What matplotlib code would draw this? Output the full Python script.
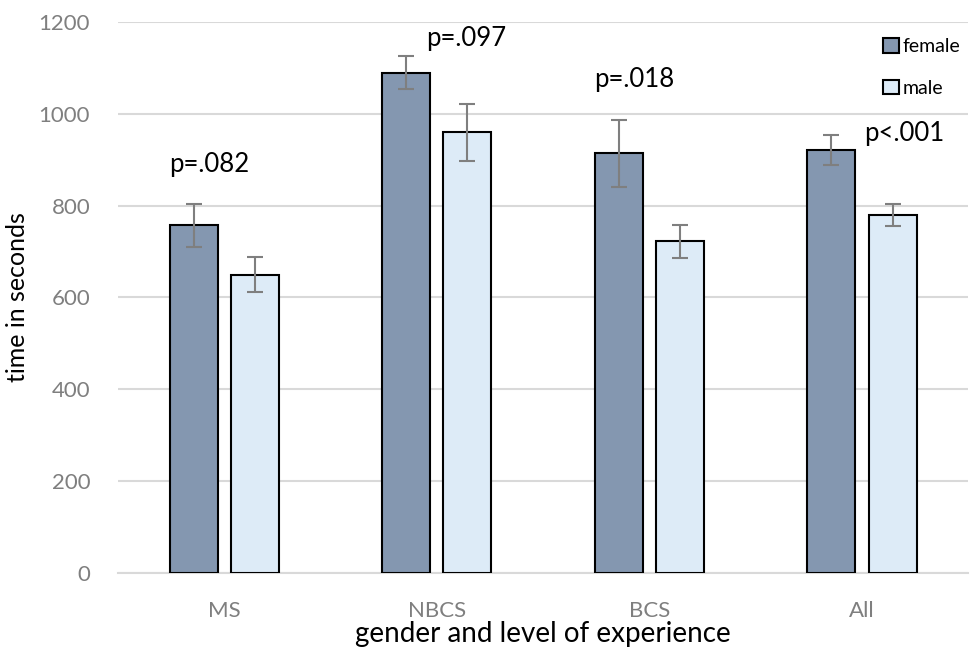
import matplotlib
matplotlib.use("Agg")
from matplotlib import pyplot as plt
import numpy as np

plt.rcParams['font.family'] = ['Lato', 'DejaVu Sans']

# Mean time per group with error bar half-lengths
grupos = ['MS', 'NBCS', 'BCS', 'All']
female = [757, 1090, 914, 921]
female_err = [46, 37, 73, 32]
male = [650, 960, 722, 779]
male_err = [38, 62, 35, 24]
p_textos = ['p=.082', 'p=.097', 'p=.018', 'p<.001']
p_pos = [(-0.07, 889), (1.14, 1165), (1.93, 1074), (3.20, 958)]

fig = plt.figure(figsize=(9.79, 6.47), dpi=100)
ax = fig.add_axes([0.1205, 0.1144, 0.8685, 0.8516])

x = np.arange(len(grupos))
ancho = 0.226
desp = 0.144
err_kw = dict(ecolor='#7f7f7f', elinewidth=1.5, capsize=6, capthick=1.5)

ax.bar(x - desp, female, ancho, yerr=female_err, color='#8497b0',
       edgecolor='black', linewidth=1.5, error_kw=err_kw, label='female', zorder=3)
ax.bar(x + desp, male, ancho, yerr=male_err, color='#ddebf7',
       edgecolor='black', linewidth=1.5, error_kw=err_kw, label='male', zorder=3)

for texto, (px, py) in zip(p_textos, p_pos):
    ax.text(px, py, texto, fontsize=18.5, ha='center', va='center', color='black')

ax.set_xlim(-0.5, 3.5)
ax.set_ylim(0, 1200)
ax.set_yticks(range(0, 1201, 200))
ax.set_xticks(x)
ax.set_xticklabels(grupos)
ax.yaxis.grid(True, color='#d9d9d9', linewidth=1.5, zorder=0)
ax.set_axisbelow(True)
for lado in ['top', 'right', 'left']:
    ax.spines[lado].set_visible(False)
ax.spines['bottom'].set_color('#d9d9d9')
ax.spines['bottom'].set_linewidth(1.5)
ax.tick_params(axis='both', length=0, labelsize=16, colors='#7f7f7f')
ax.tick_params(axis='y', pad=20)
ax.tick_params(axis='x', pad=20)

ax.set_ylabel('time in seconds', fontsize=18, color='black')
ax.yaxis.set_label_coords(-0.105, 0.5)
ax.set_xlabel('gender and level of experience', fontsize=20, color='black', labelpad=0)

ax.legend(loc='upper right', bbox_to_anchor=(1.0, 0.985), frameon=False, fontsize=14,
          handlelength=0.8, handleheight=0.8, handletextpad=0.2, labelspacing=1.25,
          borderaxespad=0.2, borderpad=0.2)

plt.savefig('out.png', dpi=100)
